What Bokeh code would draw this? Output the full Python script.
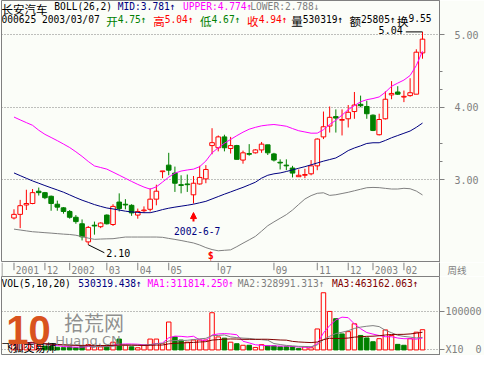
import numpy as np
import pandas as pd
from bokeh.plotting import figure
from bokeh.layouts import column
from bokeh.models import (ColumnDataSource, Range1d, LinearAxis, FixedTicker, Label,
                          Arrow, NormalHead, Grid, PrintfTickFormatter, Span)
from bokeh.core.properties import value
from bokeh.embed import file_html
from bokeh.resources import INLINE

# ------------------------------------------------------------------ data
stock_name = "长安汽车"
month_pos = [0, 5, 9, 15, 20, 25, 33, 42, 49, 54, 58, 63]
month_labels = ["2001", "12", "2002", "03", "04", "05", "07", "09", "11", "12", "2003", "02"]

open_ = [2.47, 2.52, 2.65, 2.67, 2.84, 2.82, 2.77, 2.66, 2.61, 2.56,
         2.48, 2.39, 2.14, 2.37, 2.35, 2.51, 2.38, 2.69, 2.66, 2.645,
         2.51, 2.57, 2.59, 2.73, 3.11, 3.20, 3.09, 2.93, 2.94, 2.79,
         2.94, 3.01, 3.47, 3.44, 3.59, 3.43, 3.47, 3.27, 3.36, 3.37,
         3.41, 3.48, 3.355, 3.24, 3.20, 3.16, 3.04, 3.06, 3.08, 3.19,
         3.59, 3.74, 3.87, 3.82, 3.84, 3.94, 4.04, 4.01, 3.89, 3.62,
         3.84, 4.17, 4.21, 4.14, 4.16, 4.18, 4.75]
high = [2.59, 2.72, 2.86, 2.87, 2.89, 2.83, 2.78, 2.71, 2.62, 2.58,
        2.51, 2.45, 2.36, 2.42, 2.41, 2.52, 2.66, 2.81, 2.73, 2.66,
        2.60, 2.63, 2.88, 2.93, 3.12, 3.37, 3.18, 3.06, 3.07, 3.05,
        3.19, 3.20, 3.71, 3.61, 3.62, 3.59, 3.48, 3.40, 3.49, 3.42,
        3.52, 3.48, 3.37, 3.28, 3.28, 3.19, 3.14, 3.15, 3.27, 3.57,
        3.94, 4.01, 3.97, 3.97, 4.03, 4.21, 4.16, 4.09, 3.90, 3.91,
        4.22, 4.36, 4.29, 4.23, 4.40, 4.80, 5.04]
low = [2.45, 2.33, 2.58, 2.66, 2.78, 2.73, 2.57, 2.57, 2.53, 2.46,
       2.39, 2.16, 2.10, 2.24, 2.33, 2.38, 2.36, 2.56, 2.59, 2.50,
       2.46, 2.54, 2.56, 2.645, 3.02, 3.06, 2.83, 2.81, 2.83, 2.67,
       2.93, 2.95, 3.35, 3.39, 3.39, 3.36, 3.28, 3.22, 3.33, 3.36,
       3.37, 3.34, 3.25, 3.14, 3.13, 3.03, 3.04, 3.02, 3.06, 3.13,
       3.56, 3.65, 3.65, 3.61, 3.72, 3.84, 4.00, 3.84, 3.67, 3.61,
       3.83, 4.11, 4.17, 4.07, 4.145, 4.18, 4.67]
close = [2.52, 2.64, 2.67, 2.82, 2.82, 2.75, 2.67, 2.62, 2.56, 2.48,
         2.42, 2.21, 2.34, 2.36, 2.40, 2.39, 2.63, 2.60, 2.65, 2.54,
         2.56, 2.58, 2.73, 2.84, 3.12, 3.13, 2.95, 2.92, 2.93, 2.95,
         3.03, 3.14, 3.51, 3.59, 3.44, 3.47, 3.28, 3.37, 3.35, 3.41,
         3.49, 3.37, 3.27, 3.23, 3.19, 3.09, 3.06, 3.07, 3.19, 3.56,
         3.73, 3.86, 3.85, 3.83, 3.93, 4.03, 4.02, 3.91, 3.68, 3.83,
         4.11, 4.19, 4.18, 4.15, 4.20, 4.76, 4.94]
volume = [150000, 220000, 180000, 200000, 120000, 100000, 90000, 70000, 60000, 80000,
          60000, 100000, 140000, 90000, 80000, 90000, 203000, 285000, 122000, 81000,
          57000, 122000, 285000, 285000, 163000, 732000, 341000, 260000, 203000, 260000,
          260000, 260000, 976000, 341000, 309000, 203000, 163000, 122000, 122000, 65000,
          139000, 106000, 106000, 81000, 81000, 81000, 40000, 81000, 57000, 550000,
          1500000, 1010000, 820000, 420000, 480000, 685330, 380000, 315000, 215000, 295000,
          525000, 380840, 146000, 122000, 295000, 465750, 530319]
boll_mid = [3.092, 3.055, 3.018, 2.982, 2.950, 2.918, 2.887, 2.857, 2.826, 2.789,
            2.751, 2.716, 2.686, 2.655, 2.630, 2.608, 2.595, 2.580, 2.564, 2.554,
            2.547, 2.543, 2.543, 2.562, 2.586, 2.605, 2.620, 2.633, 2.646, 2.661,
            2.680, 2.700, 2.733, 2.766, 2.799, 2.830, 2.862, 2.893, 2.928, 2.964,
            3.020, 3.060, 3.080, 3.092, 3.112, 3.134, 3.157, 3.179, 3.204, 3.230,
            3.255, 3.277, 3.299, 3.347, 3.401, 3.437, 3.466, 3.499, 3.509, 3.509,
            3.541, 3.578, 3.609, 3.640, 3.671, 3.722, 3.781]
boll_upper = [3.864, 3.825, 3.787, 3.750, 3.682, 3.625, 3.582, 3.538, 3.491, 3.443,
              3.384, 3.321, 3.251, 3.189, 3.167, 3.145, 3.103, 3.061, 3.018, 2.975,
              2.934, 2.897, 2.868, 2.900, 2.966, 3.034, 3.089, 3.118, 3.133, 3.145,
              3.179, 3.257, 3.370, 3.439, 3.503, 3.555, 3.607, 3.655, 3.696, 3.722,
              3.743, 3.754, 3.761, 3.750, 3.737, 3.705, 3.675, 3.658, 3.641, 3.642,
              3.689, 3.762, 3.820, 3.891, 3.966, 4.022, 4.075, 4.104, 4.120, 4.142,
              4.207, 4.289, 4.333, 4.375, 4.438, 4.576, 4.774]
boll_lower = [2.316, 2.304, 2.292, 2.280, 2.274, 2.267, 2.261, 2.254, 2.247, 2.242,
              2.232, 2.212, 2.192, 2.175, 2.179, 2.182, 2.184, 2.196, 2.207, 2.207,
              2.207, 2.207, 2.207, 2.207, 2.203, 2.188, 2.174, 2.159, 2.142, 2.125,
              2.097, 2.061, 2.034, 2.017, 2.024, 2.030, 2.074, 2.122, 2.168, 2.216,
              2.288, 2.363, 2.416, 2.466, 2.516, 2.580, 2.657, 2.732, 2.779, 2.811,
              2.818, 2.782, 2.791, 2.808, 2.825, 2.846, 2.867, 2.888, 2.892, 2.889,
              2.879, 2.870, 2.870, 2.880, 2.874, 2.842, 2.788]
note_week = 29
note_text = "2002-6-7"
signal_week = 32

hdr_line1 = [(1, stock_name, "black", "cjk"), (56, "BOLL(26,2)", "black", "mono"),
             (122, "MID:3.781↑", "#000080", "mono"), (190, "UPPER:4.774↑", "#ff00ff", "mono"),
             (260, "LOWER:2.788↓", "#808080", "mono")]
hdr_code = "000625 2003/03/07"
hdr_line2 = [(110, "开", "4.75↑", "#008000"), (159, "高", "5.04↑", "#ff0000"),
             (207.7, "低", "4.67↑", "#008000"), (256.7, "收", "4.94↑", "#ff0000"),
             (302.7, "量", "530319↑", "black"), (363.3, "额", "25805↑", "black"),
             (412.7, "换", "9.55", "black")]
vol_hdr = [(1, "VOL(5,10,20)", "black"), (81, "530319.438↑", "#000080"),
           (153, "MA1:311814.250↑", "#ff00ff"), (247, "MA2:328991.313↑", "#808080"),
           (345, "MA3:463162.063↑", "#800000")]
period_label = "周线"
scale_note = "X10"

# ------------------------------------------------------------------ style
BG = "#fbfdf8"
GREY = "#808080"
RED = "#ff0000"
GREEN = "#008000"
NAVY = "#000080"
MAG = "#ff00ff"
BROWN = "#800000"
MONO = "DejaVu Sans Mono"
CJK = "Noto Sans CJK SC"
MS = "9.6px"
CS = "11.5px"
W = 484
RB = 42
NB = "\u00a0"


def px2i(px):
    return (px - 14) / 6.444


def py2p(py):
    return 5 - (py - 36) / 76


def py2v(py):
    return (365 - py) / 41 * 1e6


xr = Range1d(px2i(1), px2i(457))


def make_fig(height, yr, outline=GREY):
    f = figure(width=W, height=height, x_range=xr, y_range=yr, output_backend="svg",
               toolbar_location=None, x_axis_location=None, y_axis_location=None,
               min_border_left=1, min_border_right=RB, min_border_top=0,
               min_border_bottom=0, background_fill_color=BG,
               border_fill_color=BG, outline_line_color=outline)
    for g in f.grid:
        g.visible = False
    return f


def lab(fig, x, y, text, color, font=MONO, size=MS, baseline="top", align="left", **kw):
    fig.add_layout(Label(x=x, y=y, text=text, text_color=color, text_font=font,
                         text_font_size=size, text_baseline=baseline, text_align=align, **kw))


o = np.array(open_)
h = np.array(high)
l = np.array(low)
c = np.array(close)
v = np.array(volume, dtype=float)
x = np.arange(len(c))

# ------------------------------------------------------------------ price panel
P = make_fig(262, Range1d(py2p(275), py2p(0)))

pax = LinearAxis(ticker=FixedTicker(ticks=[3, 4, 5], minor_ticks=[3.25, 3.5, 4.25, 4.5]),
                 formatter=PrintfTickFormatter(format="%.2f"),
                 axis_line_color=GREY, major_tick_line_color=GREY, minor_tick_line_color=GREY,
                 major_tick_in=0, major_tick_out=5, minor_tick_in=0, minor_tick_out=3,
                 major_label_text_color=GREY, major_label_text_font=MONO,
                 major_label_text_font_size="10px", major_label_standoff=10)
P.add_layout(pax, "right")
P.add_layout(Grid(dimension=1, axis=pax, grid_line_color=GREY, grid_line_dash="1 2"))

up = c >= o


def csrc(mask):
    return ColumnDataSource(dict(x=x[mask], h=h[mask], l=l[mask],
                                 top=np.maximum(o, c)[mask], bot=np.minimum(o, c)[mask]))


su, sd = csrc(up), csrc(~up)
P.segment(x0="x", y0="h", x1="x", y1="l", source=su, line_color=RED, line_width=1)
P.vbar(x="x", top="top", bottom="bot", width=0.74, source=su, fill_color=BG,
       line_color=RED, line_width=1)
P.segment(x0="x", y0="h", x1="x", y1="l", source=sd, line_color=GREEN, line_width=1)
P.vbar(x="x", top="top", bottom="bot", width=0.74, source=sd, fill_color=GREEN,
       line_color=GREEN, line_width=1)

P.line(x, boll_upper, line_color=MAG, line_width=1)
P.line(x, boll_mid, line_color=NAVY, line_width=1)
P.line(x, boll_lower, line_color=GREY, line_width=1)

imax = int(np.argmax(h))
imin = int(np.argmin(l))
P.segment(x0=[imax], y0=[h[imax]], x1=[imax - 2.7], y1=[h[imax]], line_color="black")
P.text(x=[imax - 3.2], y=[h[imax] + 0.025], text=[f"{h[imax]:.2f}"], text_align="right",
       text_baseline="middle", text_font=value(MONO), text_font_size="10px", text_color="black")
P.segment(x0=[imin], y0=[l[imin]], x1=[imin + 2.6], y1=[l[imin] - 0.11], line_color="black")
P.text(x=[imin + 2.9], y=[l[imin] - 0.113], text=[f"{l[imin]:.2f}"], text_align="left",
       text_baseline="middle", text_font=value(MONO), text_font_size="10px", text_color="black")

P.add_layout(Arrow(end=NormalHead(size=6, fill_color=RED, line_color=RED),
                   x_start=note_week, y_start=l[note_week] - 0.25,
                   x_end=note_week, y_end=l[note_week] - 0.125,
                   line_color=RED, line_width=2))
P.text(x=[note_week + 0.6], y=[l[note_week] - 0.38], text=[note_text], text_align="center",
       text_baseline="middle", text_font=value(MONO), text_font_size=MS, text_color=NAVY)
P.text(x=[signal_week - 0.2], y=[P.y_range.start + 0.095], text=["$"], text_align="center",
       text_baseline="middle", text_font=value(MONO), text_font_size="10px",
       text_font_style="bold", text_color=RED)

for px, txt, col, kind in hdr_line1:
    lab(P, px2i(px), py2p(1), txt, col, font=CJK if kind == "cjk" else MONO,
        size=CS if kind == "cjk" else MS)
lab(P, px2i(1), py2p(14), hdr_code, "black")
for px, ch, num, col in hdr_line2:
    lab(P, px2i(px), py2p(13), ch, col, font=CJK, size=CS)
    lab(P, px2i(px + 12), py2p(14), num, col)

# ------------------------------------------------------------------ date strip
D = make_fig(14, Range1d(0, 1), outline=None)
dax = LinearAxis(ticker=FixedTicker(ticks=[0.5]), major_label_overrides={0.5: period_label},
                 axis_line_color=GREY, major_tick_line_color=None, minor_tick_line_color=None,
                 major_tick_in=0, major_tick_out=0,
                 major_label_text_color=GREY, major_label_text_font=CJK,
                 major_label_text_font_size="9.5px", major_label_standoff=8)
D.add_layout(dax, "right")
D.add_layout(Span(location=xr.start + 0.08, dimension="height", line_color=GREY, line_width=1))
mp = np.array(month_pos)
D.segment(x0=mp, y0=1, x1=mp, y1=0.45, line_color=GREY)
D.text(x=mp + 0.3, y=0.5, text=month_labels, text_baseline="middle",
       text_align="left", text_font=value(MONO), text_font_size=MS, text_color=GREY)

# ------------------------------------------------------------------ volume panel
V = make_fig(79, Range1d(py2v(371), py2v(286)))
vax = LinearAxis(ticker=FixedTicker(ticks=[0, 1000000]),
                 major_label_overrides={0: scale_note + NB * 2 + "0", 1000000: "100000"},
                 axis_line_color=GREY, major_tick_line_color=GREY,
                 major_tick_in=0, major_tick_out=5, minor_tick_line_color=None,
                 major_label_text_color=GREY, major_label_text_font=MONO,
                 major_label_text_font_size="10px", major_label_standoff=1)
V.add_layout(vax, "right")
V.add_layout(Grid(dimension=1, axis=vax, grid_line_color=GREY, grid_line_dash="1 2"))

prev_close = np.r_[o[0], c[:-1]]
vup = c >= prev_close
vs_up = ColumnDataSource(dict(x=x[vup], v=v[vup]))
vs_dn = ColumnDataSource(dict(x=x[~vup], v=v[~vup]))
V.vbar(x="x", top="v", bottom=0, width=0.72, source=vs_up, fill_color=BG, line_color=RED)
V.vbar(x="x", top="v", bottom=0, width=0.72, source=vs_dn, fill_color=GREEN, line_color=GREEN)

vser = pd.Series(v)
V.line(x, vser.rolling(5, min_periods=1).mean(), line_color=MAG, line_width=1)
V.line(x, vser.rolling(10, min_periods=1).mean(), line_color=GREY, line_width=1)
V.line(x, vser.rolling(20, min_periods=1).mean(), line_color=BROWN, line_width=1)

for px, txt, col in vol_hdr:
    lab(V, px2i(px), py2v(288), txt, col)

# watermark / software name
lab(V, px2i(1), py2v(370), "飞狐交易师", "black", font=CJK, size="11px", baseline="bottom")
lab(V, px2i(66), py2v(320), "拾荒网", "#7c7c7c", font=CJK, size="20px", text_alpha=0.85)
lab(V, px2i(57), py2v(347), "Huang.CN", "#7c7c7c", font="DejaVu Sans", size="13px",
    text_alpha=0.85)
lab(V, px2i(6), py2v(344), "10", "#d9531e", font="Liberation Sans", size="40px",
    baseline="middle", text_font_style="bold")

# bottom band
B = figure(width=W, height=4, output_backend="svg", toolbar_location=None,
           x_axis_location=None, y_axis_location=None, min_border=0,
           background_fill_color=GREY, border_fill_color=GREY, outline_line_color=None)
for g in B.grid:
    g.visible = False

layout = column(P, D, V, B)
open("out.html", "w").write(file_html(layout, INLINE))
